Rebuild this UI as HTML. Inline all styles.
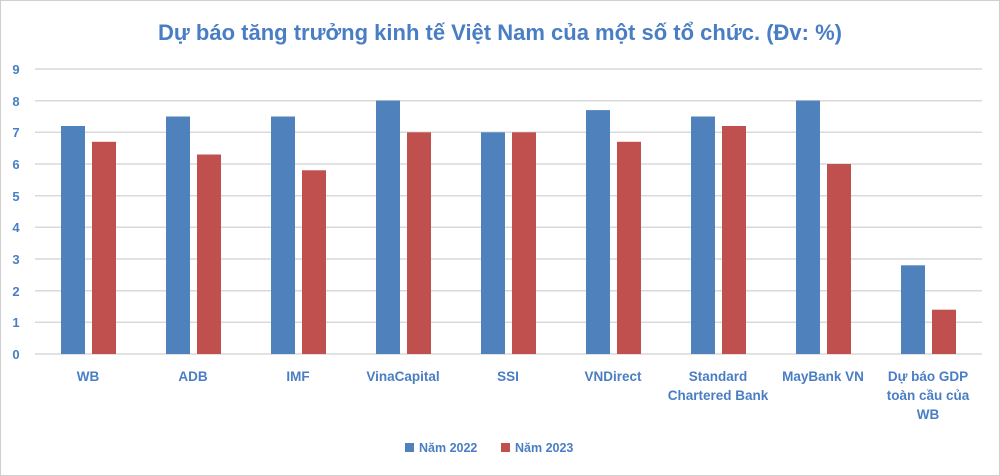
<!DOCTYPE html>
<html><head><meta charset="utf-8"><style>
body{margin:0;background:#fff}
svg{display:block;font-family:"Liberation Sans",sans-serif}
</style></head><body>
<svg width="1000" height="476" viewBox="0 0 1000 476">
<rect x="0.5" y="0.5" width="999" height="475" fill="#fff" stroke="#cfcfcf"/>
<text x="500" y="40" text-anchor="middle" font-size="22" font-weight="bold" fill="#4a7ec4">Dự báo tăng trưởng kinh tế Việt Nam của một số tổ chức. (Đv: %)</text>
<g stroke="#d9d9d9" stroke-width="1.5">
<line x1="35" x2="982" y1="69" y2="69"/><line x1="35" x2="982" y1="100.7" y2="100.7"/>
<line x1="35" x2="982" y1="132.3" y2="132.3"/><line x1="35" x2="982" y1="164" y2="164"/>
<line x1="35" x2="982" y1="195.7" y2="195.7"/><line x1="35" x2="982" y1="227.3" y2="227.3"/>
<line x1="35" x2="982" y1="259" y2="259"/><line x1="35" x2="982" y1="290.7" y2="290.7"/>
<line x1="35" x2="982" y1="322.3" y2="322.3"/><line x1="35" x2="982" y1="354" y2="354"/>
</g>
<g font-size="13" font-weight="bold" fill="#4a7ec4" text-anchor="middle">
<text x="16" y="74">9</text><text x="16" y="106">8</text><text x="16" y="137">7</text>
<text x="16" y="169">6</text><text x="16" y="201">5</text><text x="16" y="232">4</text>
<text x="16" y="264">3</text><text x="16" y="296">2</text><text x="16" y="327">1</text><text x="16" y="359">0</text>
</g>
<g fill="#4f81bd">
<rect x="61" y="126" width="24" height="228"/>
<rect x="166" y="116.5" width="24" height="237.5"/>
<rect x="271" y="116.5" width="24" height="237.5"/>
<rect x="376" y="100.6" width="24" height="253.4"/>
<rect x="481" y="132.3" width="24" height="221.7"/>
<rect x="586" y="110.1" width="24" height="243.9"/>
<rect x="691" y="116.5" width="24" height="237.5"/>
<rect x="796" y="100.6" width="24" height="253.4"/>
<rect x="901" y="265.3" width="24" height="88.7"/>
</g>
<g fill="#c0504d">
<rect x="92" y="141.8" width="24" height="212.2"/>
<rect x="197" y="154.5" width="24" height="199.5"/>
<rect x="302" y="170.3" width="24" height="183.7"/>
<rect x="407" y="132.3" width="24" height="221.7"/>
<rect x="512" y="132.3" width="24" height="221.7"/>
<rect x="617" y="141.8" width="24" height="212.2"/>
<rect x="722" y="126" width="24" height="228"/>
<rect x="827" y="164" width="24" height="190"/>
<rect x="932" y="309.7" width="24" height="44.3"/>
</g>
<g font-size="13.5" font-weight="bold" fill="#4a7ec4" text-anchor="middle">
<text x="88" y="381">WB</text><text x="193" y="381">ADB</text><text x="298" y="381">IMF</text>
<text x="403" y="381">VinaCapital</text><text x="508" y="381">SSI</text><text x="613" y="381">VNDirect</text>
<text x="718" y="381">Standard</text><text x="718" y="400">Chartered Bank</text>
<text x="823" y="381">MayBank VN</text>
<text x="928" y="381">Dự báo GDP</text><text x="928" y="400">toàn cầu của</text><text x="928" y="419">WB</text>
</g>
<rect x="405" y="443" width="9" height="9" fill="#4f81bd"/>
<text x="419" y="452" font-size="12.5" fill="#4a7ec4" font-weight="bold">Năm 2022</text>
<rect x="501" y="443" width="9" height="9" fill="#c0504d"/>
<text x="515" y="452" font-size="12.5" fill="#4a7ec4" font-weight="bold">Năm 2023</text>
</svg>
</body></html>
